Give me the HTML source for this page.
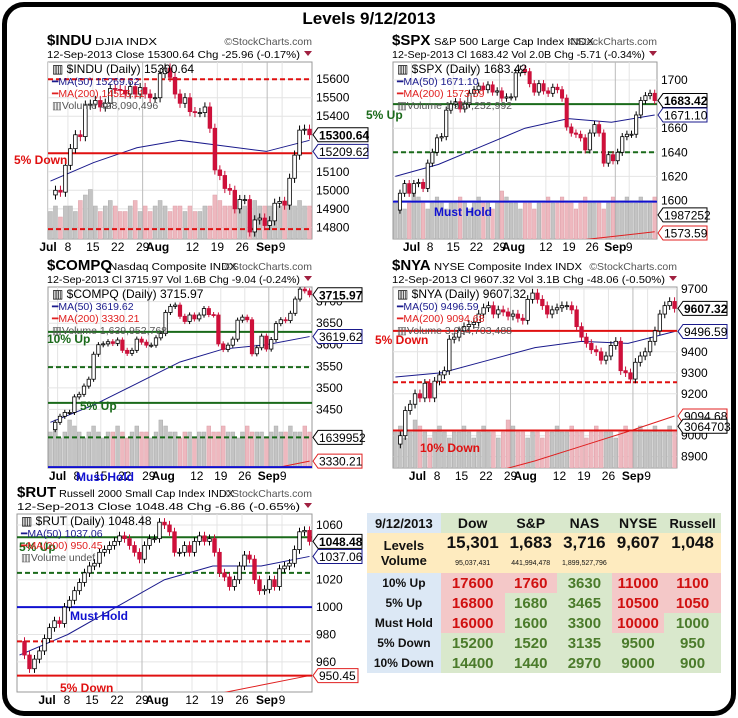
<!DOCTYPE html>
<html><head><meta charset="utf-8"><style>
body{margin:0;background:#fff;font-family:"Liberation Sans",sans-serif}
#frame{position:absolute;left:2px;top:2px;width:724px;height:704px;border:5px solid #000;border-radius:22px}
#title{position:absolute;left:0;width:738px;top:9px;text-align:center;font-weight:bold;font-size:17px}
svg{position:absolute;left:0;top:0}
table{position:absolute;left:367px;top:513px;border-collapse:collapse;font-weight:bold;width:354px}
td{text-align:center;padding:0;height:20px;font-size:15px}
.lb{background:#dce8f5;color:#111;font-size:12px}
.g{background:#d9e8cc;color:#4b7b2b}
.r{background:#f4c8c8;color:#d01010}
.y{background:#feebbf;color:#111}
</style></head><body>
<div id="frame"></div>
<div id="title">Levels 9/12/2013</div>
<svg id="s" width="738" height="718"></svg>
<table>
<tr style="height:18px"><td class="lb" style="font-size:13px">9/12/2013</td><td class="g" style="color:#111;font-size:14px">Dow</td><td class="g" style="color:#111;font-size:14px">S&amp;P</td><td class="g" style="color:#111;font-size:14px">NAS</td><td class="g" style="color:#111;font-size:14px">NYSE</td><td class="g" style="color:#111;font-size:13px">Russell</td></tr>
<tr><td class="y" style="font-size:13px;height:17px;vertical-align:bottom">Levels</td><td class="y" style="font-size:17px">15,301</td><td class="y" style="font-size:17px">1,683</td><td class="y" style="font-size:17px">3,716</td><td class="y" style="font-size:17px">9,607</td><td class="y" style="font-size:17px">1,048</td></tr>
<tr><td class="y" style="font-size:13px;height:18px;vertical-align:top">Volume</td><td class="y" style="font-size:7px;font-weight:normal">95,037,431</td><td class="y" style="font-size:7px;font-weight:normal">441,994,478</td><td class="y" style="font-size:7px;font-weight:normal">1,899,527,796</td><td class="y"></td><td class="y"></td></tr>
<tr><td class="lb">10% Up</td><td class="r">17600</td><td class="r">1760</td><td class="g">3630</td><td class="r">11000</td><td class="r">1100</td></tr>
<tr><td class="lb">5% Up</td><td class="r">16800</td><td class="g">1680</td><td class="g">3465</td><td class="r">10500</td><td class="r">1050</td></tr>
<tr><td class="lb">Must Hold</td><td class="r">16000</td><td class="g">1600</td><td class="g">3300</td><td class="r">10000</td><td class="g">1000</td></tr>
<tr><td class="lb">5% Down</td><td class="g">15200</td><td class="g">1520</td><td class="g">3135</td><td class="g">9500</td><td class="g">950</td></tr>
<tr><td class="lb">10% Down</td><td class="g">14400</td><td class="g">1440</td><td class="g">2970</td><td class="g">9000</td><td class="g">900</td></tr>
</table>
<script>
const closesINDU=[14975,15000,14990,15135,15225,15300,15290,15460,15465,15485,15450,15470,15550,15545,15540,15520,15560,15520,15555,15520,15500,15500,15630,15660,15610,15520,15470,15500,15425,15420,15420,15450,15335,15110,15080,15010,15000,14900,14950,14950,14775,14840,14850,14810,14835,14930,14940,14920,15065,15190,15325,15330,15300];
const closesSPX=[1592,1606,1614,1606,1614,1615,1610,1631,1640,1652,1653,1675,1680,1682,1676,1680,1689,1692,1695,1692,1696,1690,1691,1685,1686,1686,1706,1709,1707,1697,1690,1697,1691,1689,1694,1692,1685,1661,1656,1655,1652,1642,1656,1663,1656,1631,1638,1633,1640,1653,1655,1655,1671,1683,1687,1689,1683];
const closesCOMPQ=[3403,3420,3434,3443,3443,3479,3485,3504,3520,3578,3600,3602,3607,3603,3611,3587,3580,3587,3613,3606,3599,3599,3616,3626,3675,3689,3692,3666,3654,3669,3660,3669,3684,3670,3669,3602,3589,3599,3613,3657,3664,3658,3579,3593,3620,3590,3612,3649,3658,3656,3673,3706,3729,3725,3716];
const closesNYA=[8960,9000,9120,9150,9200,9180,9250,9180,9260,9290,9310,9460,9470,9500,9520,9530,9540,9580,9610,9620,9580,9600,9590,9570,9580,9560,9550,9650,9680,9650,9620,9580,9600,9610,9620,9620,9600,9520,9470,9440,9410,9400,9360,9380,9430,9450,9310,9300,9270,9350,9380,9400,9450,9500,9580,9620,9640,9607];
const closesRUT=[975,965,955,962,968,977,985,990,988,1000,1005,1012,1018,1025,1030,1032,1040,1042,1045,1048,1052,1050,1045,1040,1035,1045,1050,1050,1062,1060,1055,1040,1040,1045,1040,1048,1052,1048,1050,1040,1025,1022,1015,1020,1030,1038,1035,1020,1012,1013,1020,1015,1028,1030,1032,1042,1055,1056,1048];
const ma50INDU=[15050,15150,15230,15270,15240,15210,15270];
const ma50SPX=[1620,1630,1645,1660,1668,1665,1671];
const ma50COMPQ=[3420,3460,3510,3560,3590,3600,3619];
const ma50NYA=[9280,9300,9360,9420,9450,9440,9497];
const ma50RUT=[965,980,1000,1020,1030,1030,1037];
const ma200SPX=[1540,1548,1555,1561,1566,1570,1574];
const ma200COMPQ=[3180,3210,3240,3265,3290,3310,3330];
const ma200NYA=[8700,8760,8820,8880,8950,9020,9094];
const ma200RUT=[900,910,920,928,936,943,950];
const volINDU=[5,6,4,6,6,5,7,8,9,6,5,6,7,6,5,5,6,7,5,6,5,6,7,6,5,6,6,5,6,5,5,6,6,8,7,6,6,7,6,6,5,7,6,6,6,5,6,7,6,6,7,6,6];
const volPattern=[6,7,5,6,8,7,6,5,6,7,6,5,6,6,7,6,5,6,7,6,6,5,6,8,7,6,6,5,6,6,5,6,6,7,6,6,7,6,6,5,6,7,6,6,6,5,6,7,6,6,7,6,6,7,6,6,7,6,6];
const xlabels=["Jul","8","15","22","29","12","19","26","Sep","9"];
const xlabelDays=[0,4,9,14,19,29,34,39,44,47];
const S=document.getElementById('s');const NS='http://www.w3.org/2000/svg';
function mk(t,a,p){const e=document.createElementNS(NS,t);for(const k in a)e.setAttribute(k,a[k]);(p||S).appendChild(e);return e;}
function txt(x,y,s,a,p){const e=mk('text',Object.assign({x:x,y:y,'font-family':'Liberation Sans, sans-serif','font-size':11},a),p);e.textContent=s;return e;}
function panel(c){
 const g=mk('g',{});
 
 
 const n=c.closes.length, bw=c.pw/n;
 const X=i=>c.px+(i+0.5)*bw;
 const Y=v=>c.py+(c.top-v)/(c.top-c.bot)*c.ph;
 const h1=txt(c.hx,c.py-17,c.sym,{'font-size':15,'font-weight':'bold'},g);
 
 
 txt(c.hx+c.symW,c.py-17,c.desc,{'font-size':10,textLength:c.descW,lengthAdjust:'spacingAndGlyphs'},g);
 txt(c.px+c.pw,c.py-17,'©StockCharts.com',{'font-size':10.5,'text-anchor':'end',fill:'#555'},g);
 txt(c.hx,c.py-4,c.line2,{'font-size':10.5,'xml:space':'preserve',textLength:c.px+c.pw-12-c.hx,lengthAdjust:'spacingAndGlyphs'},g);
 mk('path',{d:`M${c.px+c.pw-8} ${c.py-11}l8 0l-4 5z`,fill:'#a02040'},g);
 mk('rect',{x:c.px,y:c.py,width:c.pw,height:c.ph,fill:'#fff',stroke:'#999'},g);
 const clip=mk('clipPath',{id:'cl'+c.id},g);mk('rect',{x:c.px,y:c.py,width:c.pw,height:c.ph},clip);
 const pg=mk('g',{'clip-path':`url(#cl${c.id})`},g);
 c.ticks.forEach(t=>{mk('line',{x1:c.px,x2:c.px+c.pw,y1:Y(t),y2:Y(t),stroke:'#e4e4e4'},pg);txt(c.px+c.pw+4,Y(t)+4,String(t),{'font-size':12},g);});
 xlabelDays.forEach((d,k)=>{const x=X(d+c.off)-bw/2;mk('line',{x1:x,x2:x,y1:c.py,y2:c.py+c.ph,stroke:k==4||k==8?'#bbb':'#e4e4e4'},pg);
  txt(x,c.py+c.ph+12,xlabels[k],{'font-size':12,'font-weight':(k==0||k==8)?'bold':'normal','text-anchor':'middle'},g);
  if(k==4){txt(X(22+c.off)-bw/2,c.py+c.ph+12,'Aug',{'font-size':12,'font-weight':'bold','text-anchor':'middle'},g);}});
 const vol=c.vol;
 for(let i=0;i<n;i++){const v=vol[i%vol.length];const hh=v/10*c.vh;const up=i==0||c.closes[i]>=c.closes[i-1];
  const b=mk('rect',{x:X(i)-bw/2+0.5,y:c.py+c.ph-hh,width:bw-1,height:hh,fill:up?'#c4c4c4':'#eeb8bf',stroke:up?'#aaa':'#dda0a8','stroke-width':0.5},pg);
  
  }
 const line=(arr,col,w)=>{const pts=arr.map((v,k)=>`${c.px+k*(c.pw-bw)/(arr.length-1)+bw/2},${Y(v)}`).join(' ');return mk('polyline',{points:pts,fill:'none',stroke:col,'stroke-width':w},pg);};
 const m50=line(c.ma50,'#1a1a8c',1);
 if(c.ma200){const m2=line(c.ma200,'#e02020',1);}
 c.levels.forEach(L=>{const l=mk('line',{x1:c.px,x2:c.px+c.pw,y1:Y(L.v),y2:Y(L.v),stroke:L.col,'stroke-width':2,'stroke-dasharray':L.dash?'5,3':'none'},pg);
  
  
  if(L.t){const t=txt(L.lx,L.ly,L.t,{'font-size':12,'font-weight':'bold',fill:L.col},g);}});
 for(let i=1;i<n;i++){const o=c.closes[i-1],cl=c.closes[i];const up=cl>=o;const hi=Math.max(o,cl)+c.wick,lo=Math.min(o,cl)-c.wick;
  mk('line',{x1:X(i),x2:X(i),y1:Y(hi),y2:Y(lo),stroke:up?'#000':'#c8103a'},pg);
  const r=mk('rect',{x:X(i)-bw/2+0.7,y:Y(Math.max(o,cl)),width:bw-1.4,height:Math.max(1,Math.abs(Y(o)-Y(cl))),fill:up?'#fff':'#d0103a',stroke:up?'#000':'#c8103a','stroke-width':0.8},pg);
  
  }
 const lx=c.px+4,ly=c.py+11;
 txt(lx,ly,'▥ '+c.sym+' (Daily) '+c.last,{'font-size':12},g);
 txt(lx,ly+12,'━MA(50) '+c.m50v,{'font-size':10.5,fill:'#1a1a8c'},g);
 txt(lx,ly+24,'━MA(200) '+c.m200v,{'font-size':10.5,fill:'#e02020'},g);
 txt(lx,ly+36,'▥Volume '+c.volv,{'font-size':10.5,fill:'#555'},g);
 c.boxes.forEach(b=>{const y=Y(b.v);mk('path',{d:`M${c.px+c.pw+1} ${y}l5 -7h${b.w}v14h-${b.w}z`,fill:'#fff',stroke:b.col},g);
  txt(c.px+c.pw+7,y+4.5,b.t,{'font-size':12,'font-weight':b.bold?'bold':'normal',fill:'#000'},g);});
}
panel({id:'indu',sym:'$INDU',symW:48,descW:62,desc:'DJIA  INDX',line2:'12-Sep-2013   Close 15300.64  Chg -25.96 (-0.17%)',hx:47,px:48,pw:264,py:62,ph:177,top:15693,bot:14737,ticks:[15600,15500,15400,15200,15100,15000,14900,14800],
 closes:closesINDU,off:0,wick:25,ma50:ma50INDU,vol:volINDU,vh:55,last:'15300.64',m50v:'15269.62',m200v:'14526.11',volv:'428,090,496',
 levels:[{v:15600,col:'#e01010',dash:1},{v:15200,col:'#e01010',t:'5% Down',lx:14,ly:164},{v:14790,col:'#e01010',dash:1}],
 boxes:[{v:15300,t:'15300.64',w:50,col:'#000',bold:1},{v:15210,t:'15209.62',w:50,col:'#1a1a8c'}]});
panel({id:'spx',sym:'$SPX',symW:42,descW:160,desc:'S&P 500 Large Cap Index  INDX',line2:'12-Sep-2013   Cl 1683.42  Vol 2.0B  Chg -5.71 (-0.34%)',hx:392,px:393,pw:264,py:62,ph:177,top:1715,bot:1568,ticks:[1700,1680,1660,1640,1620,1600],
 closes:closesSPX,off:4,wick:3,ma50:ma50SPX,ma200:ma200SPX,vol:volPattern,vh:60,last:'1683.42',m50v:'1671.10',m200v:'1573.59',volv:'1,987,252,992',
 levels:[{v:1680,col:'#1a6a1a',t:'5% Up',lx:366,ly:119},{v:1640,col:'#1a6a1a',dash:1},{v:1599,col:'#1010d0',t:'Must Hold',lx:434,ly:216}],
 boxes:[{v:1683,t:'1683.42',w:44,col:'#000',bold:1},{v:1671,t:'1671.10',w:44,col:'#1a1a8c'},{v:1588,t:'1987252',w:44,col:'#000'},{v:1573,t:'1573.59',w:44,col:'#e02020'}]});
panel({id:'compq',sym:'$COMPQ',symW:62,descW:128,desc:'Nasdaq Composite  INDX',line2:'12-Sep-2013   Cl 3715.97  Vol 1.6B  Chg -9.04 (-0.24%)',hx:47,px:48,pw:264,py:287,ph:181,top:3734,bot:3314,ticks:[3700,3650,3600,3550,3500,3450],
 closes:closesCOMPQ,off:2,wick:6,ma50:ma50COMPQ,ma200:ma200COMPQ,vol:volPattern,vh:60,last:'3715.97',m50v:'3619.62',m200v:'3330.21',volv:'1,639,952,768',
 levels:[{v:3630,col:'#1a6a1a',t:'10% Up',lx:47,ly:343},{v:3548,col:'#1a6a1a',dash:1},{v:3465,col:'#1a6a1a',t:'5% Up',lx:80,ly:410},{v:3385,col:'#1a6a1a',dash:1},{v:3316,col:'#1010d0',t:'Must Hold',lx:76,ly:481}],
 boxes:[{v:3716,t:'3715.97',w:44,col:'#000',bold:1},{v:3619,t:'3619.62',w:44,col:'#1a1a8c'},{v:3385,t:'1639952',w:44,col:'#000'},{v:3330,t:'3330.21',w:44,col:'#e02020'}]});
panel({id:'nya',sym:'$NYA',symW:42,descW:148,desc:'NYSE Composite Index  INDX',line2:'12-Sep-2013   Cl 9607.32  Vol 3.1B  Chg -48.06 (-0.50%)',hx:392,px:393,pw:284,py:287,ph:181,top:9709,bot:8846,ticks:[9700,9400,9300,9200,9000,8900],
 closes:closesNYA,off:5,wick:20,ma50:ma50NYA,ma200:ma200NYA,vol:volPattern,vh:60,last:'9607.32',m50v:'9496.59',m200v:'9094.68',volv:'3,064,703,488',
 levels:[{v:9500,col:'#e01010',t:'5% Down',lx:375,ly:344},{v:9255,col:'#e01010',dash:1},{v:9025,col:'#e01010',t:'10% Down',lx:420,ly:452}],
 boxes:[{v:9607,t:'9607.32',w:44,col:'#000',bold:1},{v:9497,t:'9496.59',w:44,col:'#1a1a8c'},{v:9094,t:'9094.68',w:44,col:'#e02020'},{v:9045,t:'3064703',w:44,col:'#000'}]});
panel({id:'rut',sym:'$RUT',symW:42,descW:175,desc:'Russell 2000 Small Cap Index  INDX',line2:'12-Sep-2013                    Close 1048.48  Chg -6.86 (-0.65%)',hx:17,px:17,pw:295,py:514,ph:178,top:1068,bot:938,ticks:[1060,1020,1000,980,960],
 closes:closesRUT,off:6,wick:3,ma50:ma50RUT,ma200:ma200RUT,vol:[0],vh:0,last:'1048.48',m50v:'1037.06',m200v:'950.45',volv:'undef',
 levels:[{v:1051,col:'#1a6a1a',t:'5% Up',lx:19,ly:551},{v:1025,col:'#1a6a1a',dash:1},{v:1000,col:'#1010d0',t:'Must Hold',lx:70,ly:620},{v:975,col:'#e01010',dash:1},{v:950,col:'#e01010',t:'5% Down',lx:60,ly:692}],
 boxes:[{v:1048,t:'1048.48',w:44,col:'#000',bold:1},{v:1037,t:'1037.06',w:44,col:'#1a1a8c'},{v:950,t:'950.45',w:40,col:'#e02020'}]});
</script>
</body></html>
